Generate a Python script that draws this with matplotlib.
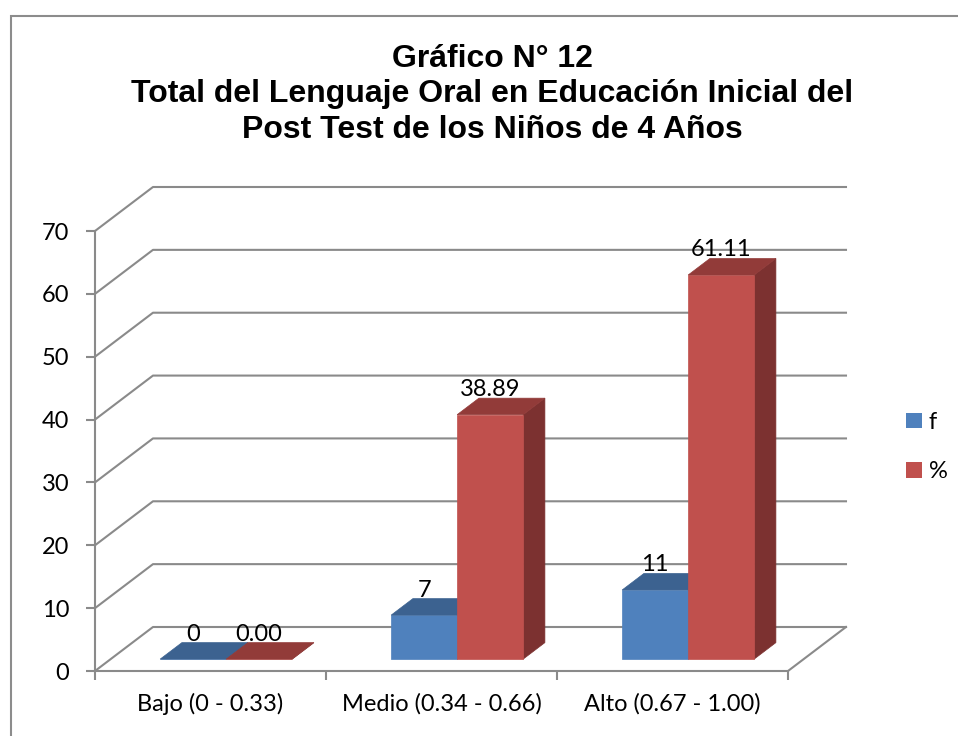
import numpy as np
import matplotlib
matplotlib.use("Agg")
import matplotlib.pyplot as plt
from matplotlib.patches import Polygon, Patch, Rectangle

# data
categories = ['Bajo (0 - 0.33)', 'Medio (0.34 - 0.66)', 'Alto (0.67 - 1.00)']
f_values = [0, 7, 11]
pct_values = [0.00, 38.89, 61.11]
f_labels = ['0', '7', '11']
pct_labels = ['0.00', '38.89', '61.11']
series_names = ['f', '%']
y_ticks = [0, 10, 20, 30, 40, 50, 60, 70]
title_lines = ['Gráfico N° 12',
               'Total del Lenguaje Oral en Educación Inicial del',
               'Post Test de los Niños de 4 Años']

# colours (front, top, side)
BLUE = ('#4F81BD', '#3C6290', '#2F4E73')
RED = ('#C0504D', '#923B39', '#7C3130')
GRID = '#8A8A8A'

W, H = 958, 736
fig = plt.figure(figsize=(W / 100, H / 100), dpi=100)
fig.patch.set_facecolor('white')

# outer chart border
fig.patches.append(Rectangle((11 / W, -0.05), 1.2, 1 - 16 / H + 0.05,
                             transform=fig.transFigure, fill=False,
                             edgecolor='#8C8C8C', lw=1.5))

ax = fig.add_axes([95 / W, 1 - 671 / H, (788 - 95) / W, (671 - 231) / H])
ax.set_xlim(0, 3)
ax.set_ylim(0, 70)

# depth of the 3d box in data units
DX, DY = 0.251, 7.0
d0, dd = 0.27, 0.375      # bar front position and bar depth (fraction of box depth)
bw = 0.2857               # bar width

# walls / gridlines
for v in y_ticks:
    ax.plot([0, DX, 3 + DX], [v, v + DY, v + DY], color=GRID, lw=1.5,
            clip_on=False, zorder=1)
ax.plot([3, 3 + DX], [0, DY], color=GRID, lw=1.5, clip_on=False, zorder=1)


def draw_bar(x0, v, cols):
    ox, oy = d0 * DX, d0 * DY
    x1 = x0 + bw
    ddx, ddy = dd * DX, dd * DY
    front = [(x0 + ox, oy), (x1 + ox, oy), (x1 + ox, v + oy), (x0 + ox, v + oy)]
    top = [(x0 + ox, v + oy), (x1 + ox, v + oy),
           (x1 + ox + ddx, v + oy + ddy), (x0 + ox + ddx, v + oy + ddy)]
    side = [(x1 + ox, oy), (x1 + ox + ddx, oy + ddy),
            (x1 + ox + ddx, v + oy + ddy), (x1 + ox, v + oy)]
    for pts, c in [(side, cols[2]), (front, cols[0]), (top, cols[1])]:
        ax.add_patch(Polygon(pts, closed=True, facecolor=c, edgecolor=c,
                             lw=0.5, clip_on=False, zorder=3))


label_font = dict(family='Lato', fontsize=17, color='black')
for i in range(len(categories)):
    left = i + 0.5 - bw
    for s, (vals, labs, cols) in enumerate([(f_values, f_labels, BLUE),
                                            (pct_values, pct_labels, RED)]):
        x0 = left + s * bw
        draw_bar(x0, vals[i], cols)
        ax.annotate(labs[i], (x0 + bw / 2 + d0 * DX, vals[i] + (d0 + dd) * DY),
                    xytext=(0, 1.5), textcoords='offset points',
                    ha='center', va='baseline', zorder=5, **label_font)

# axes styling
for sp in ['top', 'right']:
    ax.spines[sp].set_visible(False)
for sp in ['left', 'bottom']:
    ax.spines[sp].set_color(GRID)
    ax.spines[sp].set_linewidth(1.5)
ax.patch.set_visible(False)
ax.set_yticks(y_ticks)
ax.set_yticklabels([str(t) for t in y_ticks])
ax.tick_params(axis='y', length=6.5, width=1.5, color=GRID, pad=12,
               labelsize=17)
ax.set_xticks([0.5, 1.5, 2.5])
ax.set_xticklabels(categories)
ax.set_xticks([0, 1, 2, 3], minor=True)
ax.tick_params(axis='x', which='major', length=0, pad=16, labelsize=17)
ax.tick_params(axis='x', which='minor', length=6.5, width=1.5, color=GRID)
for lab in ax.get_xticklabels() + ax.get_yticklabels():
    lab.set_family('Lato')

# legend
handles = [Patch(facecolor=BLUE[0], label=series_names[0]),
           Patch(facecolor=RED[0], label=series_names[1])]
fig.legend(handles=handles, loc='center left',
           bbox_to_anchor=(885 / W, 1 - 447 / H), frameon=False,
           prop={'family': 'Lato', 'size': 17}, handlelength=0.65,
           handleheight=0.65, handletextpad=0.3, labelspacing=1.2)

# title
for k, (line, yb) in enumerate(zip(title_lines, [67, 102, 138])):
    fig.text(492 / W, 1 - yb / H, line, ha='center', va='baseline',
             family='Liberation Sans', weight='bold', fontsize=23)

fig.savefig('out.png', dpi=100)
